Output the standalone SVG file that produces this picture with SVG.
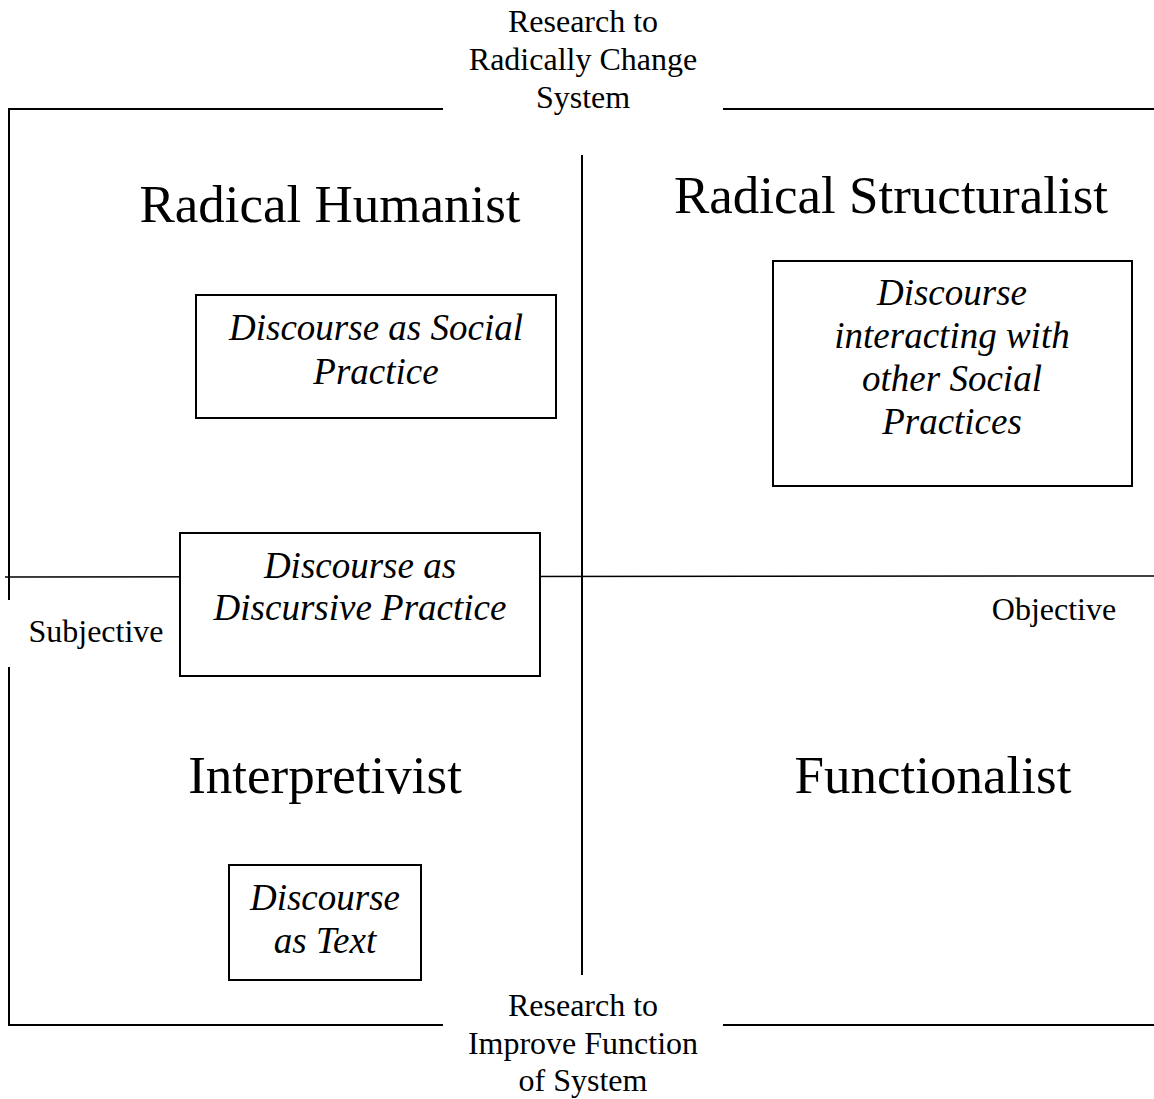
<svg xmlns="http://www.w3.org/2000/svg" width="1154" height="1099" viewBox="0 0 1154 1099">
<style>
.ln{stroke:#000;stroke-width:2;fill:none}
.bx{stroke:#000;stroke-width:2;fill:#fff}
.t{font-family:"Liberation Serif","Times New Roman",serif;fill:#000;text-anchor:middle}
.q{font-size:53px}
.i{font-size:37px;font-style:italic}
.s{font-size:32px}
</style>
<rect width="1154" height="1099" fill="#fff"/>
<g id="connectors">
<line class="ln" x1="9" y1="109" x2="443" y2="109"/>
<line class="ln" x1="723" y1="109" x2="1154" y2="109"/>
<line class="ln" x1="9" y1="1025" x2="443" y2="1025"/>
<line class="ln" x1="723" y1="1025" x2="1154" y2="1025"/>
<line class="ln" x1="9" y1="108" x2="9" y2="600"/>
<line class="ln" x1="9" y1="667" x2="9" y2="1026"/>
<line class="ln" x1="582" y1="155" x2="582" y2="975"/>
<line class="ln" style="stroke-width:1.5" x1="5" y1="577" x2="1154" y2="576"/>
</g>
<g id="label-top"><text class="t s"><tspan x="583" y="32">Research to</tspan><tspan x="583" y="70">Radically Change</tspan><tspan x="583" y="108">System</tspan></text></g>
<g id="label-bottom"><text class="t s"><tspan x="583" y="1016">Research to</tspan><tspan x="583" y="1054">Improve Function</tspan><tspan x="583" y="1091">of System</tspan></text></g>
<g id="label-subjective"><text class="t s" x="96" y="642">Subjective</text></g>
<g id="label-objective"><text class="t s" x="1054" y="620">Objective</text></g>
<g id="q-radical-humanist"><text class="t q" x="330" y="222">Radical Humanist</text></g>
<g id="q-radical-structuralist"><text class="t q" x="891" y="213">Radical Structuralist</text></g>
<g id="q-interpretivist"><text class="t q" x="325" y="793">Interpretivist</text></g>
<g id="q-functionalist"><text class="t q" x="933" y="793">Functionalist</text></g>
<g id="box-social-practice"><rect class="bx" x="196" y="295" width="360" height="123"/><text class="t i"><tspan x="376" y="340">Discourse as Social</tspan><tspan x="376" y="384">Practice</tspan></text></g>
<g id="box-interacting"><rect class="bx" x="773" y="261" width="359" height="225"/><text class="t i"><tspan x="952" y="305">Discourse</tspan><tspan x="952" y="348">interacting with</tspan><tspan x="952" y="391">other Social</tspan><tspan x="952" y="434">Practices</tspan></text></g>
<g id="box-discursive-practice"><rect class="bx" x="180" y="533" width="360" height="143"/><text class="t i"><tspan x="360" y="578">Discourse as</tspan><tspan x="360" y="620">Discursive Practice</tspan></text></g>
<g id="box-text"><rect class="bx" x="229" y="865" width="192" height="115"/><text class="t i"><tspan x="325" y="910">Discourse</tspan><tspan x="325" y="953">as Text</tspan></text></g>
</svg>
